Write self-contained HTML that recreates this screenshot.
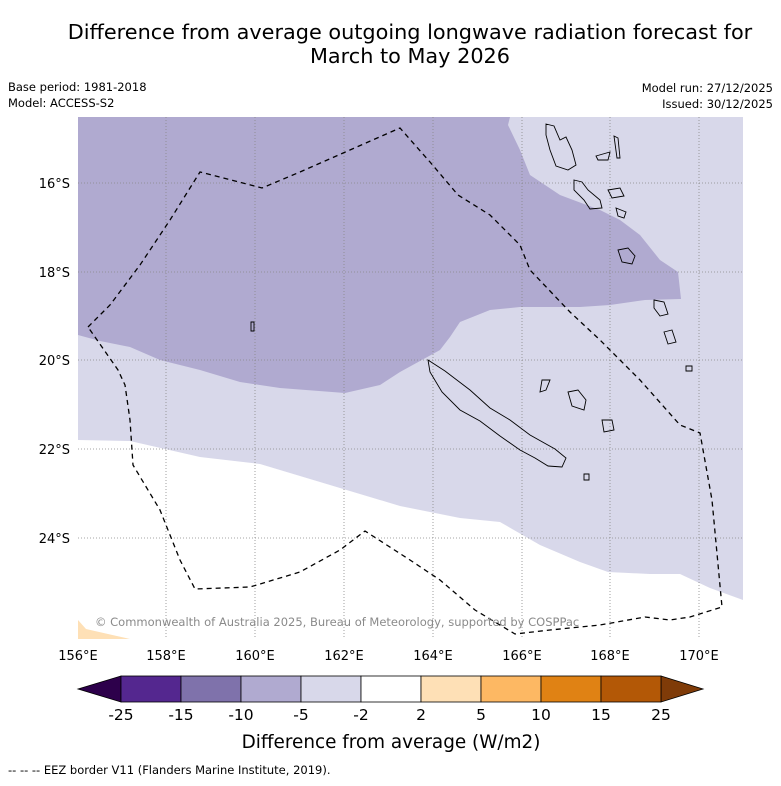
<!DOCTYPE html>
<html><head><meta charset="utf-8"><style>
body{margin:0;background:#fff;font-family:"Liberation Sans","DejaVu Sans",sans-serif}
svg text{font-family:"DejaVu Sans","Liberation Sans",sans-serif}
</style></head><body>
<svg width="781" height="781" viewBox="0 0 781 781">
<text x="410" y="39" font-size="20.8" text-anchor="middle">Difference from average outgoing longwave radiation forecast for</text>
<text x="410" y="63" font-size="20.8" text-anchor="middle">March to May 2026</text>
<text x="8" y="91" font-size="11.5">Base period: 1981-2018</text>
<text x="8" y="107" font-size="11.5">Model: ACCESS-S2</text>
<text x="773" y="92" font-size="11.5" text-anchor="end">Model run: 27/12/2025</text>
<text x="773" y="108" font-size="11.5" text-anchor="end">Issued: 30/12/2025</text>
<defs><clipPath id="mc"><rect x="78" y="117" width="665" height="522"/></clipPath></defs>
<g clip-path="url(#mc)">
<rect x="78" y="117" width="665" height="522" fill="#d8d8ea"/>
<polygon fill="#fff" points="78,440 130,441 200,457 260,464 320,482 400,506 460,518 500,522 540,545 580,562 608,572 650,574 680,574 710,588 743,600 743,639 78,639"/>
<polygon fill="#b0aad0" points="78,117 510,117 508,125 520,150 530,175 560,195 600,210 620,220 640,235 660,260 678,272 681,299 645,300 610,305 580,307 520,307 490,310 460,322 450,337 440,350 400,372 380,385 345,393 280,388 240,382 200,370 160,360 130,347 100,341 78,335"/>
<polygon fill="#fee0b6" points="78,620 86,629 130,639 78,639"/>
<g stroke="#888" stroke-width="0.8" stroke-dasharray="1,2">
<line x1="166" y1="117" x2="166" y2="639"/><line x1="255" y1="117" x2="255" y2="639"/><line x1="344" y1="117" x2="344" y2="639"/><line x1="433" y1="117" x2="433" y2="639"/><line x1="522" y1="117" x2="522" y2="639"/><line x1="610" y1="117" x2="610" y2="639"/><line x1="699" y1="117" x2="699" y2="639"/>
<line x1="78" y1="183" x2="743" y2="183"/><line x1="78" y1="272" x2="743" y2="272"/><line x1="78" y1="360" x2="743" y2="360"/><line x1="78" y1="449" x2="743" y2="449"/><line x1="78" y1="538" x2="743" y2="538"/>
</g>
<g fill="none" stroke="#000" stroke-width="0.9">
<polygon points="428,360 445,371 470,390 490,408 510,420 530,435 555,449 566,458 562,467 548,466 535,458 520,450 500,436 480,421 460,410 442,392 430,372"/>
<polygon points="546,124 554,126 560,140 566,137 572,150 576,165 568,170 556,166 550,150 546,135"/>
<polygon points="574,180 582,182 588,190 600,200 602,208 590,209 584,200 574,190"/>
<polygon points="614,136 618,138 620,158 617,158"/><polygon points="596,156 610,152 608,160 598,160"/>
<polygon points="608,190 620,188 624,196 612,198"/><polygon points="616,208 626,212 624,218 618,216"/>
<polygon points="618,250 628,248 635,256 632,264 622,262"/>
<polygon points="654,300 664,302 668,314 660,316 654,308"/><polygon points="664,332 672,330 676,342 668,344"/>
<polygon points="686,366 692,366 692,371 686,371"/>
<polygon points="568,392 578,390 586,400 584,410 572,406"/>
<polygon points="542,380 550,380 546,390 540,392"/><polygon points="602,420 612,420 614,430 604,432"/>
<polygon points="584,474 589,474 589,480 584,480"/><polygon points="251,322 254,322 254,331 251,331"/>
</g>
<polyline fill="none" stroke="#000" stroke-width="1.3" stroke-dasharray="5,4" points="88,327 110,305 140,265 170,220 200,172 262,188 300,172 400,128 430,162 458,195 490,215 520,245 530,270 570,312 600,340 640,380 680,425 700,433 712,500 722,607 690,617 670,620 645,617 600,625 550,630 515,634 475,610 440,580 410,560 365,531 340,550 300,572 250,587 195,589 180,560 160,510 133,465 130,420 125,385 118,370 88,327"/>
<text x="95" y="626" font-size="11.5" fill="#8a8a8a">© Commonwealth of Australia 2025, Bureau of Meteorology, supported by COSPPac</text>
</g>
<g font-size="13">
<text x="78" y="660" text-anchor="middle">156°E</text><text x="166" y="660" text-anchor="middle">158°E</text><text x="255" y="660" text-anchor="middle">160°E</text><text x="344" y="660" text-anchor="middle">162°E</text><text x="433" y="660" text-anchor="middle">164°E</text><text x="522" y="660" text-anchor="middle">166°E</text><text x="610" y="660" text-anchor="middle">168°E</text><text x="699" y="660" text-anchor="middle">170°E</text>
<text x="70" y="188" text-anchor="end">16°S</text><text x="70" y="277" text-anchor="end">18°S</text><text x="70" y="365" text-anchor="end">20°S</text><text x="70" y="454" text-anchor="end">22°S</text><text x="70" y="543" text-anchor="end">24°S</text>
</g>
<g id="cbar"></g>
<text x="391" y="748" font-size="18.4" text-anchor="middle">Difference from average (W/m2)</text>
<text x="8" y="774" font-size="11.5">--  --  -- EEZ border V11 (Flanders Marine Institute, 2019).</text>
</svg>
<script>
const levels=["-25","-15","-10","-5","-2","2","5","10","15","25"];
const binColors=["#54278f","#7f72ab","#b0aad0","#d8d8ea","#ffffff","#fee0b6","#fdb863","#e08214","#b35806"];
const extendColors=["#2d004b","#7f3b08"];
const g=document.getElementById('cbar');const NS="http://www.w3.org/2000/svg";
const x0=121,x1=661,y0=676,h=26,w=(x1-x0)/binColors.length;
function mk(t,a){const e=document.createElementNS(NS,t);for(const k in a)e.setAttribute(k,a[k]);g.appendChild(e);return e;}
const tl=mk('polygon',{points:`78,${y0+h/2} ${x0},${y0} ${x0},${y0+h}`,fill:extendColors[0],stroke:'#000','stroke-width':0.8});


const tr=mk('polygon',{points:`${x1},${y0} 703,${y0+h/2} ${x1},${y0+h}`,fill:extendColors[1],stroke:'#000','stroke-width':0.8});


binColors.forEach((c,i)=>{const r=mk('rect',{x:x0+i*w,y:y0,width:w,height:h,fill:c,stroke:'#000','stroke-width':0.8});

});
levels.forEach((l,i)=>{const t=mk('text',{x:x0+i*w,y:720,'font-size':15.5,'text-anchor':'middle'});t.textContent=l;

});
</script>
</body></html>
